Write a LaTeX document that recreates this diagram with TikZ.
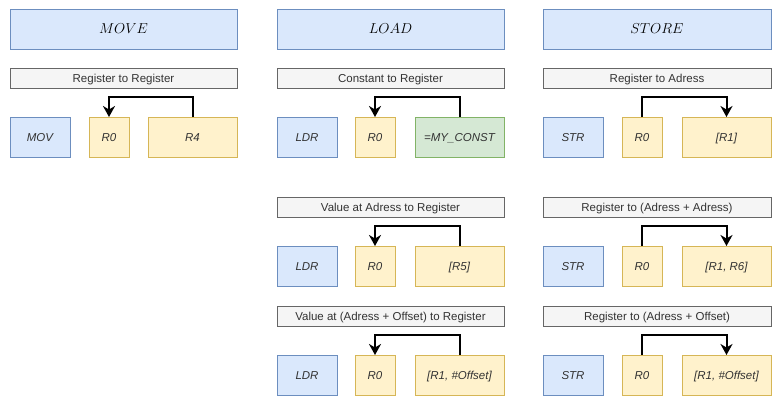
\documentclass[tikz,border=0pt]{standalone}
\usepackage{fontspec}
\setsansfont{Liberation Sans}
\usetikzlibrary{arrows.meta}
\definecolor{bfill}{HTML}{DAE8FC}\definecolor{bdraw}{HTML}{6C8EBF}
\definecolor{yfill}{HTML}{FFF2CC}\definecolor{ydraw}{HTML}{D6B656}
\definecolor{gfill}{HTML}{D5E8D4}\definecolor{gdraw}{HTML}{82B366}
\definecolor{lfill}{HTML}{F5F5F5}\definecolor{ldraw}{HTML}{666666}
\definecolor{txt}{HTML}{333333}
\newcommand\mybox[7]{\node[#2, minimum width={#5-#3}, minimum height={#6-#4}] (#1) at ({(#3+#5)/2},{(#4+#6)/2}) {#7};}
\tikzset{
  cell/.style={inner sep=0pt, outer sep=0pt, line width=1pt, text=txt, text height=8.2pt, text depth=0pt, font=\sffamily\itshape\fontsize{11.5}{13}\selectfont},
  bluebox/.style={cell, fill=bfill, draw=bdraw},
  yelbox/.style={cell, fill=yfill, draw=ydraw},
  grnbox/.style={cell, fill=gfill, draw=gdraw},
  titlebox/.style={cell, fill=bfill, draw=bdraw, text=black, text height=9.6pt, font=\fontsize{14}{16}\selectfont},
  labelbox/.style={cell, fill=lfill, draw=ldraw, font=\sffamily\fontsize{11.5}{13}\selectfont},
  arr/.style={line width=2pt, black, -{Stealth[length=11pt,width=12pt,inset=3.5pt]}},
}
\begin{document}
\begin{tikzpicture}[x=1pt,y=-1pt]
\useasboundingbox (0,0) rectangle (779,402);
% titles
\mybox{tA}{titlebox}{10}{9}{237}{49}{$MOVE$}
\mybox{tB}{titlebox}{277}{9}{504}{49}{$LOAD$}
\mybox{tC}{titlebox}{543}{9}{771}{49}{$STORE$}
% row 1 labels
\mybox{lA1}{labelbox}{10}{68}{237}{88}{Register to Register}
\mybox{lB1}{labelbox}{277}{68}{504}{88}{Constant to Register}
\mybox{lC1}{labelbox}{543}{68}{771}{88}{Register to Adress}
% row 1 boxes
\mybox{opA1}{bluebox}{10}{117}{70}{157}{MOV}
\mybox{rA1}{yelbox}{89}{117}{129}{157}{R0}
\mybox{sA1}{yelbox}{148}{117}{237}{157}{R4}
\mybox{opB1}{bluebox}{277}{117}{337}{157}{LDR}
\mybox{rB1}{yelbox}{355}{117}{395}{157}{R0}
\mybox{sB1}{grnbox}{415}{117}{504}{157}{=MY\_CONST}
\mybox{opC1}{bluebox}{543}{117}{603}{157}{STR}
\mybox{rC1}{yelbox}{622}{117}{662}{157}{R0}
\mybox{sC1}{yelbox}{682}{117}{771}{157}{[R1]}
% row 2
\mybox{lB2}{labelbox}{277}{197}{504}{217}{Value at Adress to Register}
\mybox{lC2}{labelbox}{543}{197}{771}{217}{Register to (Adress + Adress)}
\mybox{opB2}{bluebox}{277}{246}{337}{286}{LDR}
\mybox{rB2}{yelbox}{355}{246}{395}{286}{R0}
\mybox{sB2}{yelbox}{415}{246}{504}{286}{[R5]}
\mybox{opC2}{bluebox}{543}{246}{603}{286}{STR}
\mybox{rC2}{yelbox}{622}{246}{662}{286}{R0}
\mybox{sC2}{yelbox}{682}{246}{771}{286}{[R1, R6]}
% row 3
\mybox{lB3}{labelbox}{277}{306}{504}{326}{Value at (Adress + Offset) to Register}
\mybox{lC3}{labelbox}{543}{306}{771}{326}{Register to (Adress + Offset)}
\mybox{opB3}{bluebox}{277}{355}{337}{395}{LDR}
\mybox{rB3}{yelbox}{355}{355}{395}{395}{R0}
\mybox{sB3}{yelbox}{415}{355}{504}{395}{[R1, \#Offset]}
\mybox{opC3}{bluebox}{543}{355}{603}{395}{STR}
\mybox{rC3}{yelbox}{622}{355}{662}{395}{R0}
\mybox{sC3}{yelbox}{682}{355}{771}{395}{[R1, \#Offset]}
% arrows
\draw[arr] (sA1.north) -- ++(0,-20) -| (rA1.north);
\draw[arr] (sB1.north) -- ++(0,-20) -| (rB1.north);
\draw[arr] (rC1.north) -- ++(0,-20) -| (sC1.north);
\draw[arr] (sB2.north) -- ++(0,-20) -| (rB2.north);
\draw[arr] (rC2.north) -- ++(0,-20) -| (sC2.north);
\draw[arr] (sB3.north) -- ++(0,-20) -| (rB3.north);
\draw[arr] (rC3.north) -- ++(0,-20) -| (sC3.north);
\end{tikzpicture}
\end{document}
